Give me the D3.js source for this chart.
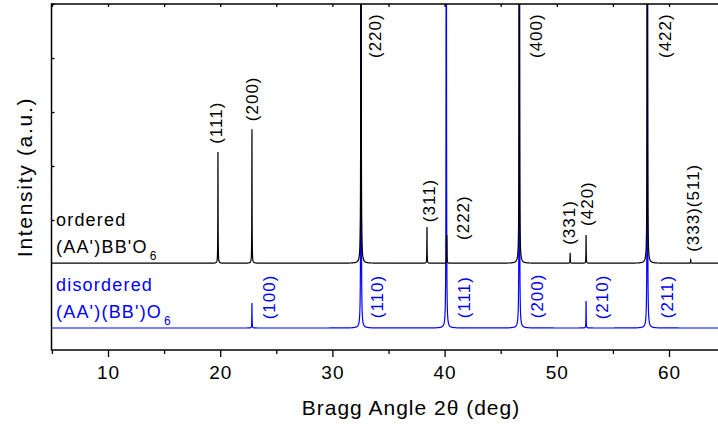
<!DOCTYPE html>
<html><head><meta charset="utf-8">
<script src="https://cdn.jsdelivr.net/npm/d3@7"></script>
<style>
body{margin:0;background:#fff}
svg{display:block}
text{font-family:"Liberation Sans",Arial,sans-serif}
</style>
</head><body><svg id="c" width="718" height="426"></svg>
<script>
// ---------- data ----------
const xTicks = [10, 20, 30, 40, 50, 60];
const xMinorTicks = [5, 15, 25, 35, 45, 55, 65];
const yTicks = [2, 3, 4, 5, 6];

const orderedPos = [19.80, 22.83, 32.55, 38.43, 40.20, 46.66, 51.19, 52.61, 58.07, 61.93];
const orderedInt = [2.06, 2.48, 20, 0.67, 0.52, 20, 0.19, 0.52, 20, 0.07];
const orderedOffset = 1.2;

const disorderedPos = [22.83, 32.55, 40.15, 46.66, 52.61, 58.07];
const disorderedInt = [0.46, 20, 20, 20, 0.50, 20];
const disorderedOffset = 0;

const orderedLabels = ["(111)", "(200)", "(220)", "(311)", "(222)", "(400)", "(331)", "(420)", "(422)", "(333)(511)"];
const orderedLabelX = [19.63, 22.83, 33.84, 38.61, 41.64, 48.17, 51.13, 52.74, 59.62, 62.14];
const orderedLabelY = [3.41, 3.83, 5.0, 1.96, 1.63, 5.0, 1.54, 1.89, 5.0, 1.41];

const disorderedLabels = ["(100)", "(110)", "(111)", "(200)", "(210)", "(211)"];
const disorderedLabelX = [24.32, 33.95, 41.73, 48.28, 54.07, 59.82];
const disorderedLabelY = [0.16, 0.18, 0.18, 0.18, 0.16, 0.18];

const peakWidth = 0.013; // Lorentzian half width (deg)

// ---------- layout ----------
const svg = d3.select("#c");
const mLeft = 51.5, mTop = 4, mBottom = 350;
const x = d3.scaleLinear().domain([10, 60]).range([108, 669]);
const y = d3.scaleLinear().domain([0, 6]).range([328, 4]);
const xRight = x(65);

svg.append("defs").append("clipPath").attr("id", "plotclip")
  .append("rect").attr("x", mLeft).attr("y", mTop).attr("width", xRight - mLeft).attr("height", mBottom - mTop);

function profile(pos, ints, offset) {
  const xs = [];
  for (let t = 5; t <= 65.0001; t += 0.003) xs.push(t);
  pos.forEach(p => { xs.push(p); xs.push(p - 0.0008); xs.push(p + 0.0008); });
  xs.sort((a, b) => a - b);
  const g2 = peakWidth * peakWidth;
  return xs.map(t => {
    let v = offset;
    for (let i = 0; i < pos.length; i++) {
      const d = t - pos[i];
      v += ints[i] * g2 / (d * d + g2);
    }
    return [t, v];
  });
}

const line = d3.line().x(d => x(d[0])).y(d => Math.max(-50, y(d[1])));
const plot = svg.append("g").attr("clip-path", "url(#plotclip)");
plot.append("path").datum(profile(disorderedPos, disorderedInt, disorderedOffset))
  .attr("d", line).attr("fill", "none").attr("stroke", "#0000ff").attr("stroke-width", 1.2);
plot.append("path").datum(profile(orderedPos, orderedInt, orderedOffset))
  .attr("d", line).attr("fill", "none").attr("stroke", "#000").attr("stroke-width", 1.2);

// ---------- axes ----------
const axStroke = 1.5;
const gB = svg.append("g").attr("transform", `translate(0,${mBottom})`)
  .call(d3.axisBottom(x).tickValues(xTicks).tickSize(7).tickPadding(9).tickFormat(d3.format("d")));
const gBm = svg.append("g").attr("transform", `translate(0,${mBottom})`)
  .call(d3.axisBottom(x).tickValues(xMinorTicks).tickSize(4).tickFormat(""));
const gT = svg.append("g").attr("transform", `translate(0,${mTop})`)
  .call(d3.axisBottom(x).tickValues(xTicks.concat(xMinorTicks)).tickSize(3).tickFormat(""));
const gL = svg.append("g").attr("transform", `translate(${mLeft},0)`)
  .call(d3.axisRight(y).tickValues(yTicks).tickSize(3).tickFormat(""));

[gB, gBm, gT, gL].forEach(g => {
  g.select(".domain").remove();
  g.selectAll(".tick line").attr("stroke", "#000").attr("stroke-width", 1.3);
});
gB.selectAll(".tick text").attr("font-size", 19).attr("letter-spacing", 1)
  .attr("fill", "#000").attr("font-family", "'Liberation Sans', Arial, sans-serif");

svg.append("line").attr("x1", mLeft).attr("x2", 718).attr("y1", mBottom).attr("y2", mBottom)
  .attr("stroke", "#000").attr("stroke-width", axStroke);
svg.append("line").attr("x1", mLeft).attr("x2", 718).attr("y1", mTop).attr("y2", mTop)
  .attr("stroke", "#000").attr("stroke-width", axStroke);
svg.append("line").attr("x1", mLeft).attr("x2", mLeft).attr("y1", mTop - 0.75).attr("y2", mBottom + 0.75)
  .attr("stroke", "#000").attr("stroke-width", axStroke);

// ---------- titles ----------
svg.append("text").attr("x", 411).attr("y", 415).attr("text-anchor", "middle")
  .attr("font-size", 21).attr("letter-spacing", 1).text("Bragg Angle 2θ (deg)");
svg.append("text").attr("transform", "translate(32,177) rotate(-90)").attr("text-anchor", "middle")
  .attr("font-size", 21).attr("letter-spacing", 1.7).text("Intensity (a.u.)");

// ---------- peak labels ----------
function labels(names, lx, ly, color) {
  names.forEach((n, i) => {
    svg.append("text")
      .attr("transform", `translate(${x(lx[i])},${y(ly[i])}) rotate(-90)`)
      .attr("dy", "0.35em").attr("font-size", 17).attr("letter-spacing", 1)
      .attr("fill", color).text(n);
  });
}
labels(orderedLabels, orderedLabelX, orderedLabelY, "#000");
labels(disorderedLabels, disorderedLabelX, disorderedLabelY, "#0000ff");

// ---------- legend texts ----------
function legendText(lines, color, y0) {
  svg.append("text").attr("x", 56).attr("y", y0).attr("font-size", 18)
    .attr("letter-spacing", 1.2).attr("fill", color).text(lines[0]);
  const t2 = svg.append("text").attr("x", 56).attr("y", y0 + 27).attr("font-size", 18)
    .attr("letter-spacing", 1.2).attr("fill", color);
  t2.append("tspan").text(lines[1]);
  t2.append("tspan").attr("font-size", 12).attr("dy", 7).attr("dx", 2).text("6");
}
legendText(["ordered", "(AA')BB'O"], "#000", 226);
legendText(["disordered", "(AA')(BB')O"], "#0000ff", 291);
</script>
</body></html>
